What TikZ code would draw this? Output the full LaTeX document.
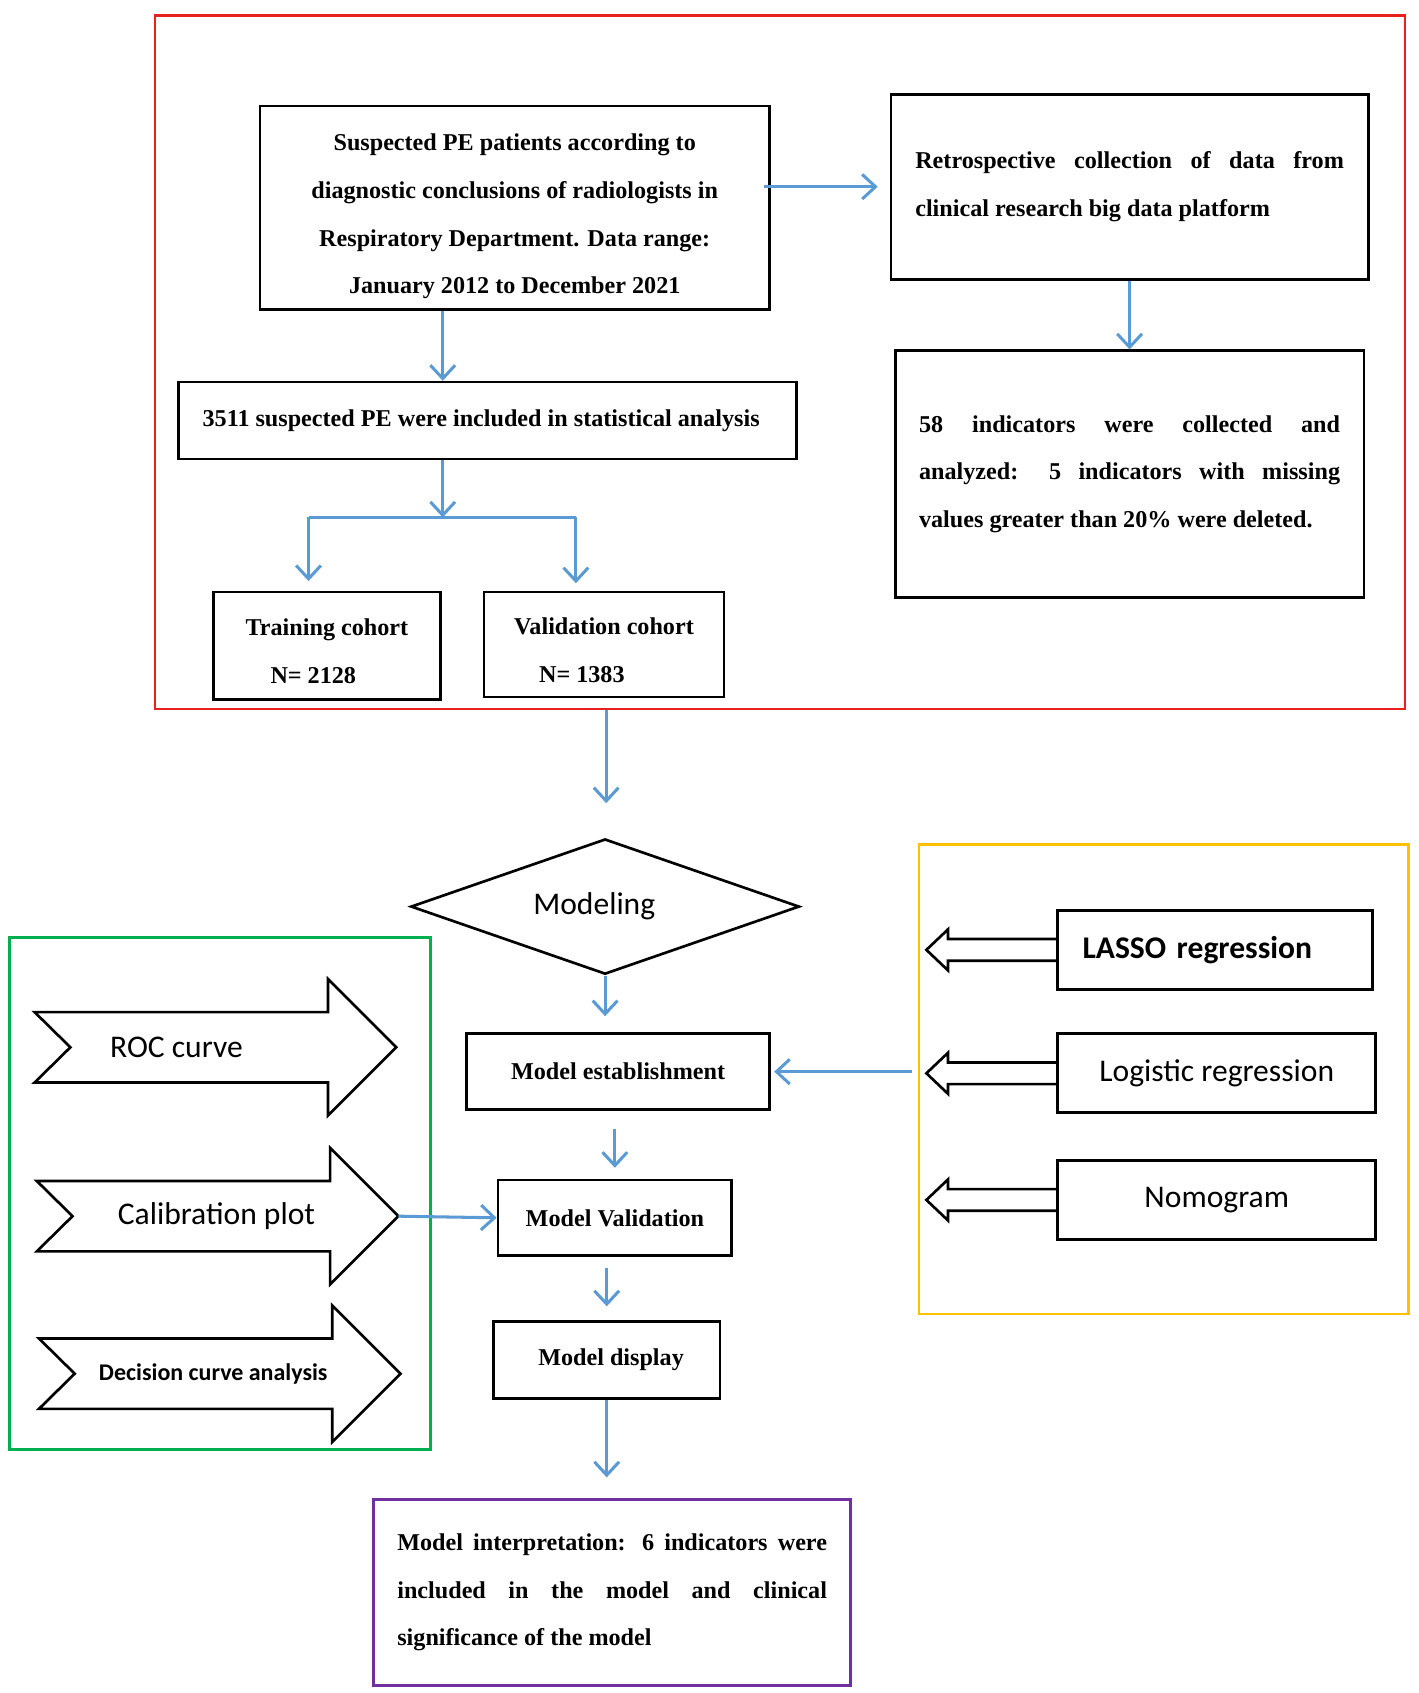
\documentclass[tikz,border=0pt]{standalone}
\usepackage{fontspec}
\setmainfont{Liberation Serif}
\newfontfamily\calibri{Carlito}
\usetikzlibrary{arrows.meta,shapes.geometric}
\definecolor{flow blue}{HTML}{5B9BD5}
\definecolor{frame red}{HTML}{E8211F}
\definecolor{frame green}{HTML}{00B050}
\definecolor{frame yellow}{HTML}{FFC000}
\definecolor{frame purple}{HTML}{7030A0}
\def\boxfont{\fontsize{12.7pt}{25pt}\selectfont\bfseries}
\def\methodfont{\calibri\fontsize{16.6pt}{20pt}\selectfont}
\tikzset{stage/.style={draw, line width=1.4pt, inner sep=0pt, font=\boxfont},
	frame/.style={draw=#1, line width=1.4pt, inner sep=0pt},
	flow/.style={draw=flow blue, line width=1.6pt, -{Straight Barb[length=7pt,width=13pt]}},
	chevron/.style={draw, line width=1.4pt, line join=miter}}

\begin{document}
\begin{tikzpicture}[x=0.02cm,y=-0.02cm]
	\useasboundingbox (0,0) rectangle (1310,1564);
	% data collection
	\node[frame=frame red, minimum width=23.1cm, minimum height=12.82cm] (dataframe) at (720.5,334.5) {};
	\node[stage, minimum width=9.42cm, minimum height=3.76cm, align=center] (suspect) at (475.5,192)
		{\rule{0pt}{17.9pt}Suspected PE patients according to\\diagnostic conclusions of radiologists in\\Respiratory Department. Data range:\\January 2012 to December 2021};
	\node[stage, minimum width=8.82cm, minimum height=3.42cm, text width=7.92cm, align=justify] (retro) at (1043.5,172.5)
		{Retrospective collection of data from\linebreak clinical research big data platform};
	\node[stage, minimum width=8.66cm, minimum height=4.56cm, text width=7.78cm, align=justify] (indic) at (1043.5,438)
		{58 indicators were collected and\linebreak analyzed: 5 indicators with missing\linebreak values greater than 20\% were deleted.};
	\node[stage, minimum width=11.42cm, minimum height=1.42cm] (included) at (450.5,388.5)
		{3511 suspected PE were included in statistical analysis\hspace*{0.24cm}};
	\node[stage, minimum width=4.2cm, minimum height=1.98cm, align=left] (train) at (302,596.5)
		{\rule{0pt}{14.5pt}Training cohort\\\hspace*{0.46cm}N= 2128};
	\node[stage, minimum width=4.44cm, minimum height=1.94cm, align=left] (valid) at (558,595.5)
		{\rule{0pt}{14.5pt}Validation cohort\\\hspace*{0.46cm}N= 1383};
	\coordinate (split) at (409,478);
	\coordinate (splitL) at (285,478);
	\coordinate (splitR) at (532,478);
	\draw[flow, shorten <=-0.12cm, shorten >=0.22cm] (suspect.east |- retro.west) -- (retro.west);
	\draw[flow] (retro.south) -- (indic.north);
	\draw[flow] (suspect.south -| split) -- (included.north -| split);
	\draw[flow] (included.south -| split) -- (split);
	\draw[draw=flow blue, line width=1.6pt] (splitL) -- (splitR);
	\draw[flow, shorten >=0.18cm] (splitL) -- (splitL |- train.north);
	\draw[flow, shorten >=0.14cm] (splitR) -- (splitR |- valid.north);

	% modelling chain
	\coordinate (intoModel) at (560,742);
	\draw[flow] (dataframe.south -| intoModel) -- (intoModel);
	\node[diamond, aspect=2.9, draw, line width=1.4pt, inner sep=0pt, minimum width=7.18cm, minimum height=2.5cm, font=\methodfont] (modeling) at (559,837.5) {Modeling\hspace*{0.4cm}};
	\node[stage, minimum width=5.6cm, minimum height=1.4cm] (establish) at (571,990) {Model establishment};
	\node[stage, minimum width=4.32cm, minimum height=1.4cm] (validate) at (568,1125) {Model Validation};
	\node[stage, minimum width=4.18cm, minimum height=1.42cm] (display) at (560.5,1256.5) {\hspace*{0.16cm}Model display};
	\node[stage, draw=frame purple, minimum width=8.82cm, minimum height=3.44cm, text width=7.94cm, align=justify] (interp) at (565.5,1471)
		{Model interpretation: 6 indicators were\linebreak included in the model and clinical\linebreak significance of the model};
	\draw[flow, shorten >=0.3cm] (modeling.south) -- (establish.north -| modeling.south);
	\draw[flow, shorten <=0.34cm, shorten >=0.2cm] (establish.south -| validate.north) -- (validate.north);
	\draw[flow, shorten <=0.2cm, shorten >=0.26cm] (validate.south -| display.north) -- (display.north);
	\draw[flow, shorten >=0.38cm] (display.south) -- (display.south |- interp.north);

	% methods
	\node[frame=frame yellow, minimum width=9.04cm, minimum height=8.68cm] (methods) at (1075,997) {};
	\node[stage, font=\methodfont\bfseries, minimum width=5.82cm, minimum height=1.46cm, text width=4.9cm, align=left] (lasso) at (1122.5,877.5) {LASSO regression};
	\node[stage, font=\methodfont, minimum width=5.88cm, minimum height=1.46cm] (logistic) at (1124,991.5) {Logistic regression};
	\node[stage, font=\methodfont, minimum width=5.88cm, minimum height=1.46cm] (nomogram) at (1124,1108.5) {Nomogram};
	\foreach \nm in {lasso,logistic,nomogram}
		\draw[chevron] ([yshift=0.2cm]\nm.west) -- ++(-100,0) -- ++(0,-9) -- ++(-20,19) -- ++(20,19) -- ++(0,-9) -- ++(100,0);
	\draw[flow, shorten <=0.1cm, shorten >=0.06cm] (methods.west |- establish) -- (establish.east);

	% evaluation
	\node[frame=frame green, minimum width=7.78cm, minimum height=9.46cm] (evalframe) at (203.5,1102.5) {};
	\foreach \nm/\y/\dx/\tx/\txt in {roc/967.5/0/163/{ROC curve}, calib/1123.5/2/200/{Calibration plot}, dca/1269/4/197/{\bfseries\fontsize{12.6pt}{15pt}\selectfont Decision curve analysis}}{
		\draw[chevron] (32+\dx,\y-32.5) -- (303+\dx,\y-32.5) -- (303+\dx,\y-63) -- (366+\dx,\y)
			-- (303+\dx,\y+63) -- (303+\dx,\y+32.5) -- (32+\dx,\y+32.5) -- (65+\dx,\y) -- cycle;
		\node[font=\methodfont] (\nm) at (\tx,\y) {\txt};
		\coordinate (\nm tip) at (366+\dx,\y);
	}
	\draw[flow] (calibtip) -- (validate.west);
\end{tikzpicture}
\end{document}
